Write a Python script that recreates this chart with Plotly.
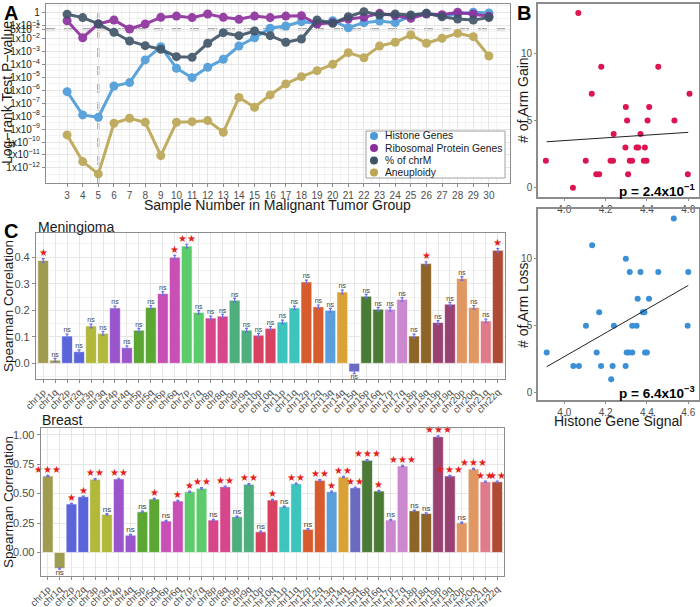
import plotly.graph_objects as go

W, H = 700, 607
FONT = "Liberation Sans, Arial, sans-serif"

# ---------------- Panel A data ----------------
samples = list(range(3, 31))
histone_log10p = [-6.12, -7.91, -8.09, -5.68, -5.42, -3.67, -2.65, -4.31, -5.04, -4.24, -3.62, -2.60, -1.96, -1.23,
                  -1.06, -0.72, -0.85, -0.65, -1.19, -0.80, -0.67, -0.80, -0.29, -0.08, -0.26, -0.15, 0.00, -0.05]
ribosomal_log10p = [-0.65, -1.96, -0.90, -0.59, -1.29, -0.90, -0.39, -0.29, -0.41, -0.13, -0.39, -0.54, -0.29, -0.41,
                    -0.29, -0.26, -0.90, -0.80, -0.52, -0.39, -0.08, -0.26, -0.46, -0.13, -0.18, 0.00, -0.13, -0.30]
chrm_log10p = [-0.15, -0.41, -0.90, -1.54, -2.21, -2.57, -2.85, -3.42, -3.47, -2.39, -1.57, -1.80, -1.44, -1.80,
               -2.31, -2.06, -0.59, -0.85, -0.34, 0.05, -0.21, -0.13, -0.21, -0.08, -0.34, -0.52, -0.59, -0.41]
aneuploidy_log10p = [-9.45, -11.51, -12.46, -8.55, -8.17, -8.48, -11.05, -8.48, -8.43, -8.35, -9.25, -6.57, -7.32,
                     -6.37, -5.52, -4.96, -4.50, -4.01, -3.11, -3.50, -2.60, -2.31, -1.75, -2.39, -2.00, -1.62,
                     -1.88, -3.37]
series_names = ["Histone Genes", "Ribosomal Protein Genes", "% of chrM", "Aneuploidy"]
series_colors = ["#4a9ad8", "#8c2d9c", "#3e5366", "#bba551"]
p_threshold = 0.05
selected_sample = 5
a_tickvals = [1, 1e-1, 5e-2] + [10 ** -k for k in range(2, 13)]
a_ticktext = ["1", "1x10<sup>−1</sup>", "5x10<sup>−2</sup>"] + ["1x10<sup>−%d</sup>" % k for k in range(2, 13)]

# ---------------- Panel B data ----------------
gain_signal = [4.068, 4.179, 4.133, 4.455, 4.298, 4.411, 4.304, 4.403, 4.533, 4.606, 4.239, 4.369, 4.296, 4.350,
               4.358, 4.390, 3.911, 4.104, 4.224, 4.236, 4.317, 4.328, 4.385, 4.398, 4.155, 4.169, 4.309, 4.598, 4.042]
gain_count = [13, 9, 7, 9, 6, 6, 5, 5, 5, 7, 4, 4, 3, 3, 3, 3, 2, 2, 2, 2, 2, 2, 2, 2, 1, 1, 1, 1, 0]
loss_signal = [3.915, 4.044, 4.071, 4.105, 4.169, 4.157, 4.178, 4.240, 4.234, 4.227, 4.297, 4.302, 4.313, 4.329,
               4.329, 4.350, 4.355, 4.410, 4.380, 4.388, 4.391, 4.400, 4.597, 4.135, 4.298, 4.317, 4.369, 4.455,
               4.600, 4.530]
loss_count = [3, 2, 2, 5, 6, 3, 2, 5, 2, 1, 2, 3, 3, 3, 5, 5, 7, 7, 6, 6, 3, 3, 5, 11, 10, 9, 9, 9, 9, 13]
gain_fit_x = [3.915, 4.600]
gain_fit_y = [3.42, 4.12]
loss_fit_x = [3.915, 4.600]
loss_fit_y = [1.94, 8.00]
gain_p_label = "p = 2.4x10<sup>−1</sup>"
loss_p_label = "p = 6.4x10<sup>−3</sup>"

# ---------------- Panel C data ----------------
arms = ["chr1p", "chr1q", "chr2p", "chr2q", "chr3p", "chr3q", "chr4p", "chr4q", "chr5p", "chr5q", "chr6p", "chr6q",
        "chr7p", "chr7q", "chr8p", "chr8q", "chr9p", "chr9q", "chr10p", "chr10q", "chr11p", "chr11q", "chr12p",
        "chr12q", "chr13q", "chr14q", "chr15q", "chr16p", "chr16q", "chr17p", "chr17q", "chr18p", "chr18q",
        "chr19p", "chr19q", "chr20p", "chr20q", "chr21q", "chr22q"]
meningioma_rho = [0.388, 0.012, 0.103, 0.044, 0.141, 0.113, 0.209, 0.059, 0.125, 0.211, 0.263, 0.400, 0.442, 0.192,
                  0.171, 0.178, 0.238, 0.125, 0.106, 0.132, 0.156, 0.209, 0.307, 0.213, 0.200, 0.269, -0.032, 0.253,
                  0.204, 0.204, 0.241, 0.103, 0.376, 0.154, 0.223, 0.320, 0.211, 0.160, 0.426]
meningioma_sig = ["*", "ns", "ns", "ns", "ns", "ns", "ns", "ns", "ns", "ns", "ns", "*", "**", "ns", "ns", "ns", "ns",
                  "ns", "ns", "ns", "ns", "ns", "ns", "ns", "ns", "ns", "ns", "ns", "ns", "ns", "ns", "ns", "*", "ns",
                  "ns", "ns", "ns", "ns", "*"]
meningioma_err = 0.007
breast_rho = [0.649, -0.136, 0.411, 0.473, 0.621, 0.323, 0.624, 0.147, 0.345, 0.453, 0.266, 0.436, 0.515, 0.544,
              0.275, 0.558, 0.303, 0.578, 0.175, 0.445, 0.388, 0.583, 0.196, 0.612, 0.515, 0.640, 0.549, 0.782,
              0.521, 0.275, 0.734, 0.354, 0.331, 0.983, 0.649, 0.252, 0.708, 0.600, 0.600]
breast_sig = ["***", "ns", "*", "*", "**", "ns", "**", "ns", "ns", "*", "ns", "*", "*", "**", "ns", "**", "ns", "**",
              "ns", "*", "ns", "**", "ns", "**", "*", "**", "**", "***", "*", "ns", "***", "ns", "ns", "***", "***",
              "ns", "***", "**", "**"]
breast_err = 0.006
chrom_colors = {
    "1": "#a09c4f", "2": "#5b65da", "3": "#b2b83a", "4": "#9a55cc", "5": "#5ca734", "6": "#c84fb6",
    "7": "#5ccb6c", "8": "#d7458a", "9": "#4fae7e", "10": "#d8415f", "11": "#3dc4bd", "12": "#d85b2e",
    "13": "#5a9fdb", "14": "#d9a136", "15": "#6a6bc0", "16": "#4a7a35", "17": "#cc88cf", "18": "#8e6529",
    "19": "#994170", "20": "#e09762", "21": "#e07b8a", "22": "#b04a35",
}

# ---------------- helpers ----------------
def px(x):
    return x / W

def py(y):
    return 1 - y / H

GRID = "#e6e6e6"
MINOR = "#f2f2f2"
BORDER = "#8c8c8c"
TICKC = "#4d4d4d"

fig = go.Figure()

# ---------- Panel A ----------
for name, col, vals in zip(series_names, series_colors,
                           [histone_log10p, ribosomal_log10p, chrm_log10p, aneuploidy_log10p]):
    fig.add_trace(go.Scatter(
        x=samples, y=[10 ** v for v in vals], mode="lines+markers", name=name,
        line=dict(color=col, width=3), marker=dict(color=col, size=9), opacity=0.9,
        xaxis="x", yaxis="y", showlegend=False))

fig.add_shape(type="line", xref="x domain", yref="y", x0=0, x1=1, y0=p_threshold, y1=p_threshold,
              line=dict(color="#8a8a8a", width=2, dash="dash"), layer="below")
fig.add_shape(type="line", xref="x", yref="y domain", x0=selected_sample, x1=selected_sample, y0=0, y1=1,
              line=dict(color="#8a8a8a", width=2, dash="dash"), layer="below")

# manual legend
lx0, ly0, lx1, ly1 = 366, 131, 505, 178
fig.add_shape(type="rect", xref="paper", yref="paper", x0=px(lx0), x1=px(lx1), y0=py(ly1), y1=py(ly0),
              line=dict(color="#a0a0a0", width=1), fillcolor="white")
leg_rows = [136, 148, 160.5, 172.5]
for name, col, ry in zip(series_names, series_colors, leg_rows):
    r = 4
    fig.add_shape(type="circle", xref="paper", yref="paper", x0=px(374 - r), x1=px(374 + r), y0=py(ry + r),
                  y1=py(ry - r), fillcolor=col, line=dict(color=col, width=0))
    fig.add_annotation(xref="paper", yref="paper", x=px(383), y=py(ry), text=name, showarrow=False,
                       xanchor="left", yanchor="middle", font=dict(size=10.3, color="#1a1a1a"))

# ---------- Panel B ----------
fig.add_trace(go.Scatter(x=gain_signal, y=gain_count, mode="markers", marker=dict(color="#dc1450", size=6),
                         xaxis="x2", yaxis="y2", showlegend=False))
fig.add_trace(go.Scatter(x=gain_fit_x, y=gain_fit_y, mode="lines", line=dict(color="#222", width=1),
                         xaxis="x2", yaxis="y2", showlegend=False))
fig.add_trace(go.Scatter(x=loss_signal, y=loss_count, mode="markers", marker=dict(color="#3a8fd6", size=6),
                         xaxis="x3", yaxis="y3", showlegend=False))
fig.add_trace(go.Scatter(x=loss_fit_x, y=loss_fit_y, mode="lines", line=dict(color="#222", width=1),
                         xaxis="x3", yaxis="y3", showlegend=False))

# ---------- Panel C ----------
def arm_color(a):
    return chrom_colors[a[3:-1]]

bar_colors = [arm_color(a) for a in arms]

def add_bar_panel(vals, sigs, err, xa, ya, ns_size):
    fig.add_trace(go.Bar(
        x=arms, y=vals, marker=dict(color=bar_colors, line=dict(color="white", width=0.6)), width=0.9,
        error_y=dict(type="data", array=[err] * len(vals), color="#6e6ee6", thickness=1.2, width=1.5),
        xaxis=xa, yaxis=ya, showlegend=False))
    for kind in ["ns", "star"]:
        xs, ys, ts, pos = [], [], [], []
        for a, v, s in zip(arms, vals, sigs):
            if (s == "ns") != (kind == "ns"):
                continue
            xs.append(a)
            if v >= 0:
                ys.append(v + err)
                pos.append("top center")
            else:
                ys.append(v - err)
                pos.append("bottom center")
            ts.append(s if s == "ns" else "★" * len(s))
        fig.add_trace(go.Scatter(
            x=xs, y=ys, text=ts, mode="text", textposition=pos,
            textfont=dict(size=ns_size if kind == "ns" else 10, color="#444" if kind == "ns" else "#e3201b"),
            xaxis=xa, yaxis=ya, showlegend=False, cliponaxis=False))

add_bar_panel(meningioma_rho, meningioma_sig, meningioma_err, "x4", "y4", 7)
add_bar_panel(breast_rho, breast_sig, breast_err, "x5", "y5", 8)

# ---------- axes ----------
axis_common = dict(showline=True, mirror=True, linecolor=BORDER, linewidth=1.2, ticks="outside", ticklen=3,
                   tickcolor=BORDER, tickfont=dict(size=10, color=TICKC), zeroline=False, automargin=False)
b_axis = {**axis_common, "linewidth": 1.6, "ticklen": 2}
cat_common = dict(type="category", categoryorder="array", categoryarray=arms, range=[-0.6, 38.6],
                  tickmode="array", tickvals=arms, ticktext=arms, tickangle=-45, showgrid=True, gridcolor=GRID)
cat_font = dict(size=9.5, color=TICKC)

fig.update_layout(
    width=W, height=H, margin=dict(l=0, r=0, t=0, b=0, autoexpand=False), paper_bgcolor="white",
    plot_bgcolor="white", font=dict(family=FONT, color="#1a1a1a"), bargap=0.1,
    xaxis=dict(domain=[px(46), px(510)], anchor="y", range=[1.65, 31.35], tickvals=samples,
               showgrid=True, gridcolor=GRID, gridwidth=1,
               minor=dict(tickvals=[s + 0.5 for s in range(1, 31)], showgrid=True, gridcolor=MINOR, ticks=""),
               **axis_common),
    yaxis=dict(domain=[py(183), py(4)], anchor="x", type="log", range=[-13.16, 0.64], tickvals=a_tickvals,
               ticktext=a_ticktext, showgrid=True, gridcolor=GRID, gridwidth=1,
               minor=dict(tickvals=[10 ** (-k + 0.5) for k in range(0, 14)], showgrid=True, gridcolor=MINOR,
                          ticks=""),
               **{**axis_common, "tickfont": dict(size=10, color="#222")}),
    xaxis2=dict(domain=[px(538), px(699)], anchor="y2", range=[3.873, 4.652], tickvals=[4.0, 4.2, 4.4, 4.6],
                ticktext=["4.0", "4.2", "4.4", "4.6"], showgrid=False, **b_axis),
    yaxis2=dict(domain=[py(197), py(4)], anchor="x2", range=[-0.69, 13.67], tickvals=[0, 5, 10], showgrid=False,
                **b_axis),
    xaxis3=dict(domain=[px(538), px(699)], anchor="y3", range=[3.873, 4.652], tickvals=[4.0, 4.2, 4.4, 4.6],
                ticktext=["4.0", "4.2", "4.4", "4.6"], showgrid=False, **b_axis),
    yaxis3=dict(domain=[py(400), py(209)], anchor="x3", range=[-0.54, 13.7], tickvals=[0, 5, 10], showgrid=False,
                **b_axis),
    xaxis4=dict(domain=[px(36), px(505)], anchor="y4", **cat_common, **{**axis_common, "tickfont": cat_font}),
    yaxis4=dict(domain=[py(379), py(232.7)], anchor="x4", range=[-0.059, 0.4925], tickvals=[0, 0.1, 0.2, 0.3, 0.4],
                ticktext=["0.0", "0.1", "0.2", "0.3", "0.4"], showgrid=True, gridcolor=GRID,
                minor=dict(tickvals=[-0.05, 0.05, 0.15, 0.25, 0.35, 0.45], showgrid=True, gridcolor=MINOR, ticks=""),
                **{**axis_common, "tickfont": dict(size=11, color=TICKC)}),
    xaxis5=dict(domain=[px(40.7), px(504.3)], anchor="y5", **cat_common, **{**axis_common, "tickfont": cat_font}),
    yaxis5=dict(domain=[py(576), py(428.3)], anchor="x5", range=[-0.20, 1.054],
                tickvals=[0, 0.25, 0.5, 0.75, 1.0], ticktext=["0.00", "0.25", "0.50", "0.75", "1.00"],
                showgrid=True, gridcolor=GRID,
                minor=dict(tickvals=[-0.125, 0.125, 0.375, 0.625, 0.875], showgrid=True, gridcolor=MINOR, ticks=""),
                **{**axis_common, "tickfont": dict(size=11, color=TICKC)}),
)

# ---------- text annotations ----------
def ann(x, y, text, size, bold=False, angle=0, xanchor="center", yanchor="middle", color="#1a1a1a"):
    t = "<b>" + text + "</b>" if bold else text
    fig.add_annotation(xref="paper", yref="paper", x=px(x), y=py(y), text=t, showarrow=False, textangle=angle,
                       xanchor=xanchor, yanchor=yanchor, font=dict(size=size, color=color, family=FONT))

ann(2, 0, "A", 20, bold=True, xanchor="left", yanchor="top", color="black")
ann(515, 0, "B", 20, bold=True, xanchor="left", yanchor="top", color="black")
ann(2, 218, "C", 20, bold=True, xanchor="left", yanchor="top", color="black")
ann(7, 93, "Log−rank Test P−value", 14, angle=-90)
ann(277, 205, "Sample Number in Malignant Tumor Group", 14)
ann(523, 100, "# of Arm Gain", 14, angle=-90)
ann(523, 305, "# of Arm Loss", 14, angle=-90)
ann(618, 421, "Histone Gene Signal", 14)
ann(697, 190, gain_p_label, 13.5, bold=True, xanchor="right", color="black")
ann(697, 392, loss_p_label, 13.5, bold=True, xanchor="right", color="black")
ann(36, 227, "Meningioma", 14, xanchor="left")
ann(40, 420, "Breast", 14, xanchor="left")
ann(8, 306, "Spearman Correlation", 13.5, angle=-90)
ann(8, 502, "Spearman Correlation", 13.5, angle=-90)

fig.write_html("out.html", config={"displayModeBar": False}, post_script="document.body.style.margin='0';")
